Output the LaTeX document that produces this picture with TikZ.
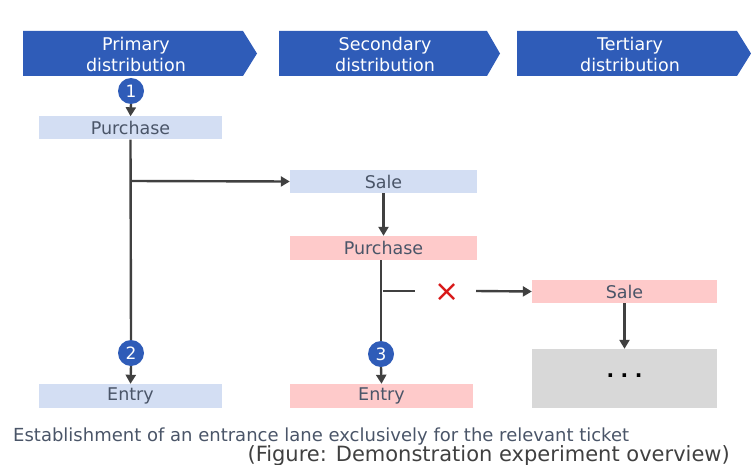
\documentclass[tikz,border=0pt]{standalone}
\usepackage{fontspec}
\setmainfont{DejaVu Sans}
\usetikzlibrary{arrows.meta}
\definecolor{chev}{HTML}{2F5CB8}
\definecolor{lblue}{HTML}{D3DEF3}
\definecolor{lpink}{HTML}{FECACA}
\definecolor{lgray}{HTML}{D8D8D8}
\definecolor{txt}{HTML}{4A5568}
\definecolor{arr}{HTML}{404040}
\definecolor{xred}{HTML}{D81818}
\tikzset{
  chevron/.style={fill=chev,draw=none},
  chevtext/.style={text=white,font=\fontsize{17.5}{21}\selectfont,align=center},
  box/.style={draw=none,inner sep=0pt,text=txt,font=\fontsize{17.5}{20}\selectfont},
  num/.style={circle,fill=chev,minimum size=26pt,inner sep=0pt,text=white,font=\fontsize{17}{18}\selectfont},
  con/.style={draw=arr,line width=2.4pt},
  arrow/.style={con,-{Triangle[length=9pt,width=10pt]}},
}
\begin{document}
\begin{tikzpicture}[x=1pt,y=-1pt]
\useasboundingbox (0,0) rectangle (751,465);
% chevrons
\fill[chevron] (23,31) -- (243,31) -- (257,53.5) -- (243,76) -- (23,76) -- cycle;
\fill[chevron] (279,31) -- (487,31) -- (500,53.5) -- (487,76) -- (279,76) -- cycle;
\fill[chevron] (517,31) -- (737,31) -- (751,53.5) -- (737,76) -- (517,76) -- cycle;
\node[chevtext] (c1) at (136,54) {Primary\\distribution};
\node[chevtext] (c2) at (385,54) {Secondary\\distribution};
\node[chevtext] (c3) at (630,54) {Tertiary\\distribution};
% boxes
\node[box,fill=lblue,minimum width=183pt,minimum height=23pt] (p1) at (130.5,128) {Purchase};
\node[box,fill=lblue,minimum width=183pt,minimum height=24pt] (e1) at (130.5,396) {Entry};
\node[box,fill=lblue,minimum width=187pt,minimum height=23pt] (s2) at (383.5,181.5) {Sale};
\node[box,fill=lpink,minimum width=187pt,minimum height=24pt] (p2) at (383.5,248) {Purchase};
\node[box,fill=lpink,minimum width=183pt,minimum height=24pt] (e2) at (381.5,396) {Entry};
\node[box,fill=lpink,minimum width=185pt,minimum height=23pt] (s3) at (624.5,291.5) {Sale};
\node[box,fill=lgray,minimum width=185pt,minimum height=59pt,text=black,font=\fontsize{20}{20}\selectfont\bfseries] (g3) at (624.5,378.5) {\raisebox{5pt}{.\hspace{6.5pt}.\hspace{6.5pt}.}};
% numbered circles
\node[num] (n1) at (131,91) {1};
\node[num] (n2) at (131,353) {2};
\node[num] (n3) at (381,354) {3};
\coordinate (b1) at (131,181);
\coordinate (b2) at (383,291);
\coordinate (b2e) at (415,291);
\coordinate (b3) at (476,291);
\node[text=xred,font=\fontsize{30}{30}\selectfont,inner sep=0pt] (x) at (447,293) {×};
% connectors
\draw[arrow] (n1.south) -- (p1.north);
\draw[con] (p1.south) -- (n2.north);
\draw[arrow] (n2.south) -- (e1.north);
\draw[arrow] (b1) -- (s2.west);
\draw[arrow] (s2.south) -- (p2.north);
\draw[con] (p2.south -| n3) -- (n3.north);
\draw[arrow] (n3.south) -- (e2.north);
\draw[con] (b2) -- (b2e);
\draw[arrow] (b3) -- (s3.west);
\draw[arrow] (s3.south) -- (g3.north);
% caption
\node[anchor=base west,text=txt,inner sep=0pt,font=\fontsize{18}{20}\selectfont] (cap1) at (13,441) {Establishment of an entrance lane exclusively for the relevant ticket};
\node[anchor=base east,text=arr,inner sep=0pt,font=\fontsize{21}{23}\selectfont] (cap2) at (730,461) {(Figure: Demonstration experiment overview)};
\end{tikzpicture}
\end{document}
